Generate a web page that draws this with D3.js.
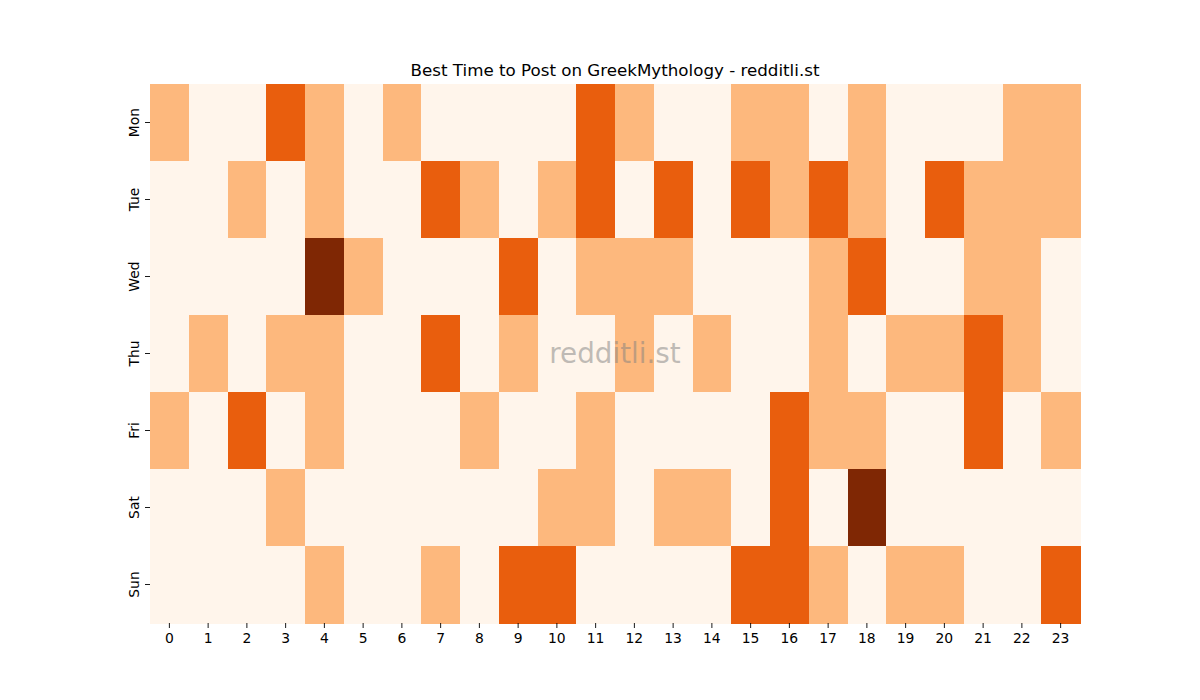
<!DOCTYPE html>
<html>
<head>
<meta charset="utf-8">
<script src="https://cdn.jsdelivr.net/npm/d3@7"></script>
<style>
  body { margin: 0; background: #fff; }
  text { font-family: "DejaVu Sans", sans-serif; }
</style>
</head>
<body>
<div id="chart"></div>
<script>
// data
const days = ['Mon', 'Tue', 'Wed', 'Thu', 'Fri', 'Sat', 'Sun'];
const hours = d3.range(24);
const mon = [1,0,0,2,1,0,1,0,0,0,0,2,1,0,0,1,1,0,1,0,0,0,1,1];
const tue = [0,0,1,0,1,0,0,2,1,0,1,2,0,2,0,2,1,2,1,0,2,1,1,1];
const wed = [0,0,0,0,3,1,0,0,0,2,0,1,1,1,0,0,0,1,2,0,0,1,1,0];
const thu = [0,1,0,1,1,0,0,2,0,1,0,0,1,0,1,0,0,1,0,1,1,2,1,0];
const fri = [1,0,2,0,1,0,0,0,1,0,0,1,0,0,0,0,2,1,1,0,0,2,0,1];
const sat = [0,0,0,1,0,0,0,0,0,0,1,1,0,1,1,0,2,0,3,0,0,0,0,0];
const sun = [0,0,0,0,1,0,0,1,0,2,2,0,0,0,0,2,2,1,0,1,1,0,0,2];
const rows = [mon, tue, wed, thu, fri, sat, sun];
const levelColors = ['#fff5eb', '#fdb87d', '#e95e0d', '#7f2704'];

const width = 1200, height = 700;
const margin = { top: 84, right: 120, bottom: 77, left: 150 };

const svg = d3.select('#chart').append('svg')
  .attr('width', width)
  .attr('height', height);

const x = d3.scaleBand().domain(hours).range([margin.left, width - margin.right]);
const y = d3.scaleBand().domain(days).range([margin.top, height - margin.bottom]);
const color = d3.scaleOrdinal().domain([0, 1, 2, 3]).range(levelColors);

const cells = [];
rows.forEach((r, i) => r.forEach((v, h) => cells.push({ day: days[i], hour: h, v: v })));

svg.append('g').selectAll('rect')
  .data(cells)
  .enter()
  .append('rect')
  .attr('x', d => x(d.hour))
  .attr('y', d => y(d.day))
  .attr('width', x.bandwidth() + 0.5)
  .attr('height', y.bandwidth() + 0.5)
  .attr('fill', d => color(d.v))
  .attr('shape-rendering', 'crispEdges');

// axes
const xAxis = svg.append('g')
  .attr('transform', 'translate(0,' + (height - margin.bottom) + ')')
  .call(d3.axisBottom(x).tickSize(5).tickPadding(5));
const yAxis = svg.append('g')
  .attr('transform', 'translate(' + margin.left + ',0)')
  .call(d3.axisLeft(y).tickSize(5).tickPadding(5));

[xAxis, yAxis].forEach(a => {
  a.select('.domain').remove();
  a.selectAll('.tick line').attr('stroke', '#000').attr('stroke-width', 0.9);
  a.selectAll('.tick text').attr('font-size', 13.9).attr('fill', '#000')
    .style('font-family', '"DejaVu Sans", sans-serif');
});

yAxis.selectAll('.tick text')
  .attr('x', null).attr('dy', null)
  .attr('text-anchor', 'middle')
  .attr('transform', 'translate(-11,0) rotate(-90)')
  .attr('dy', '0');

svg.append('text')
  .attr('x', (margin.left + width - margin.right) / 2)
  .attr('y', 76)
  .attr('text-anchor', 'middle')
  .attr('font-size', 16.7)
  .text('Best Time to Post on GreekMythology - redditli.st');

svg.append('text')
  .attr('x', (margin.left + width - margin.right) / 2)
  .attr('y', y('Thu') + y.bandwidth() / 2)
  .attr('dy', '0.35em')
  .attr('text-anchor', 'middle')
  .attr('font-size', 27.8)
  .attr('fill', '#808080')
  .attr('fill-opacity', 0.5)
  .text('redditli.st');
</script>
</body>
</html>
